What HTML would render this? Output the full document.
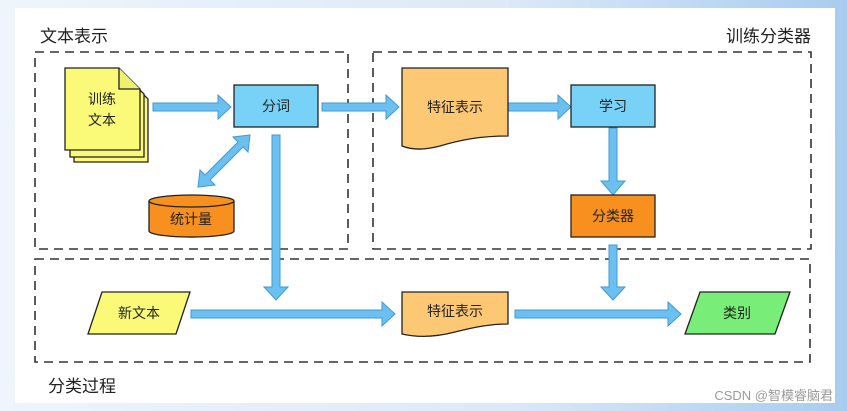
<!DOCTYPE html>
<html><head><meta charset="utf-8"><style>
html,body{margin:0;padding:0;width:847px;height:411px;overflow:hidden;background:linear-gradient(90deg,#eef5fc,#d8e8f8 60%,#a9cdf0);}
svg{position:absolute;left:0;top:0}
text{font-family:"Liberation Sans","Noto Sans CJK SC",sans-serif;fill:#222}
</style></head><body>
<svg width="847" height="411" viewBox="0 0 847 411">
<defs>
<linearGradient id="bg" x1="0" x2="1"><stop offset="0" stop-color="#eef5fc"/><stop offset="0.6" stop-color="#dbe9f8"/><stop offset="1" stop-color="#a8ccef"/></linearGradient>
</defs>
<rect width="847" height="411" fill="url(#bg)"/>
<rect x="15" y="8" width="820" height="395" fill="#fff"/>
<g fill="none" stroke="#333" stroke-width="1.6" stroke-dasharray="9,6">
<rect x="35" y="52" width="313" height="197"/>
<rect x="373" y="52" width="438" height="197"/>
<rect x="35" y="259" width="775" height="103"/>
</g>
<text x="40" y="42" font-size="17">文本表示</text>
<text x="811" y="42" font-size="17" text-anchor="end">训练分类器</text>
<text x="48" y="392" font-size="17">分类过程</text>

<g fill="#6cc0f0" stroke="#3f9ad6" stroke-width="1">
<!-- 训练→分词 -->
<polygon points="153,103 218,103 218,95 231,107 218,119 218,111 153,111"/>
<!-- 分词→特征 -->
<polygon points="322,103 386,103 386,95 399,107 386,119 386,111 322,111"/>
<!-- 特征→学习 -->
<polygon points="508,103 558,103 558,95 571,107 558,119 558,111 508,111"/>
<!-- 学习→分类器 -->
<polygon points="609,128 617,128 617,181 625,181 613,195 601,181 609,181"/>
<!-- 分词 down -->
<polygon points="272,135 280,135 280,287 288,287 276,300 264,287 272,287"/>
<!-- 分类器 down -->
<polygon points="609,245 617,245 617,287 625,287 613,300 601,287 609,287"/>
<!-- bottom arrows -->
<polygon points="191,310 382,310 382,302 395,314 382,326 382,318 191,318"/>
<polygon points="515,310 668,310 668,302 681,314 668,326 668,318 515,318"/>
<!-- double diagonal -->
<polygon points="250,135 248,152 243,147 210,180 215,185 198,187 200,170 205,175 238,142 233,137"/>
</g>

<!-- doc stack -->
<g stroke="#222" stroke-width="1.3" fill="#fafa78">
<path d="M74,78 H127 L148,99 V162 H74 Z"/>
<path d="M70,73 H123 L144,94 V157 H70 Z"/>
<path d="M65,68 H119 L140,89 V150 H65 Z"/>
<path d="M119,68 V89 H140" fill="#f0f070"/>
</g>
<text x="102" y="104" font-size="14" text-anchor="middle">训练</text>
<text x="102" y="125" font-size="14" text-anchor="middle">文本</text>

<rect x="234" y="85" width="84" height="42" fill="#78d2f8" stroke="#222" stroke-width="1.3"/>
<text x="276" y="111" font-size="14" text-anchor="middle">分词</text>

<!-- cylinder -->
<path d="M149,201 V231 A42,6 0 0 0 234,231 V201" fill="#f7901e" stroke="#222" stroke-width="1.3"/>
<ellipse cx="191.5" cy="201" rx="42.5" ry="6" fill="#f7901e" stroke="#222" stroke-width="1.3"/>
<text x="191" y="224" font-size="14" text-anchor="middle">统计量</text>

<!-- 特征表示 top -->
<path d="M402,68 H508 V136 C480,136 460,140 440,146 C425,150 412,150 402,146 Z" fill="#fdc874" stroke="#222" stroke-width="1.3"/>
<text x="455" y="112" font-size="14" text-anchor="middle">特征表示</text>

<rect x="571" y="85" width="84" height="42" fill="#78d2f8" stroke="#222" stroke-width="1.3"/>
<text x="613" y="111" font-size="14" text-anchor="middle">学习</text>
<rect x="571" y="195" width="84" height="42" fill="#f7901e" stroke="#222" stroke-width="1.3"/>
<text x="613" y="221" font-size="14" text-anchor="middle">分类器</text>

<!-- bottom -->
<polygon points="102,292 190,292 176,334 88,334" fill="#fafa78" stroke="#222" stroke-width="1.3"/>
<text x="139" y="318" font-size="14" text-anchor="middle">新文本</text>
<path d="M402,292 H508 V324 C490,324 475,327 455,332 C432,338 415,337 402,334 Z" fill="#fdc874" stroke="#222" stroke-width="1.3"/>
<text x="455" y="316" font-size="14" text-anchor="middle">特征表示</text>
<polygon points="700,292 790,292 775,334 685,334" fill="#78ee78" stroke="#222" stroke-width="1.3"/>
<text x="737" y="318" font-size="14" text-anchor="middle">类别</text>

<text x="833" y="400" font-size="13" text-anchor="end" fill="#aaa" style="fill:#9a9a9a">CSDN @智模睿脑君</text>
</svg>
</body></html>
